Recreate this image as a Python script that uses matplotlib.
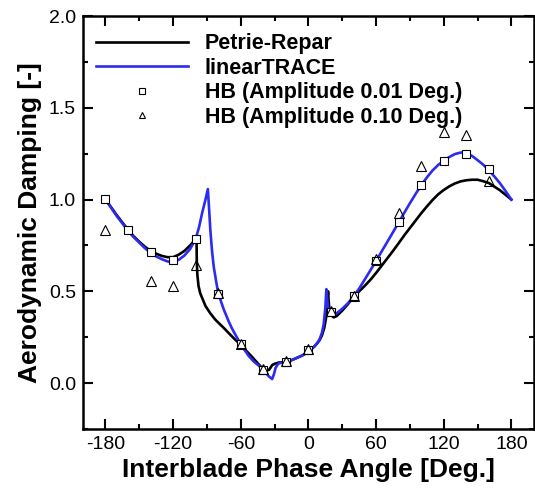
import matplotlib
matplotlib.use('Agg')
import matplotlib.pyplot as plt
from matplotlib.ticker import MultipleLocator

plt.rcParams['font.family'] = ['Liberation Sans', 'DejaVu Sans']

#Petrie-Repar reference curve
pr_ibpa = [-180, -175, -170, -165, -160, -155, -150, -145, -140, -135, -130, -125, -120, -115,
           -110, -105, -102, -100, -99.5, -99.2, -99, -98.5, -97.5, -96, -94, -91.3, -87, -82.5,
           -78, -75, -70, -65, -60, -55, -50, -45, -40, -37, -35, -33.5, -32.2, -30, -26.3, -20,
           -15, -10, -5, 0, 5, 8, 10, 12, 14, 15.5, 16.5, 17.4, 17.9, 18.6, 20, 22.4, 25, 30, 35,
           40, 45, 50, 55, 60, 65, 70, 75, 80, 85, 90, 95, 100, 105, 110, 115, 120, 125, 130, 135,
           140, 145, 150, 155, 160, 165, 170, 175, 180]
pr_damp = [1.0, 0.958, 0.915, 0.875, 0.835, 0.8, 0.77, 0.743, 0.72, 0.705, 0.693, 0.686, 0.686, 0.7,
           0.72, 0.75, 0.77, 0.785, 0.79, 0.76, 0.66, 0.59, 0.53, 0.49, 0.46, 0.42, 0.38, 0.345,
           0.318, 0.30, 0.268, 0.237, 0.208, 0.175, 0.143, 0.108, 0.075, 0.07, 0.072, 0.085, 0.098, 0.105, 0.112, 0.115,
           0.125, 0.138, 0.152, 0.172, 0.198, 0.218, 0.235, 0.26, 0.3, 0.35, 0.42, 0.5, 0.45, 0.40, 0.372, 0.358, 0.365, 0.395, 0.43,
           0.47, 0.5, 0.53, 0.563, 0.6, 0.64, 0.68, 0.72, 0.762, 0.805, 0.845, 0.885, 0.925, 0.962, 0.997, 1.028, 1.052, 1.072, 1.088, 1.099,
           1.105, 1.108, 1.108, 1.1, 1.09, 1.07, 1.05, 1.025, 1.0]

#linearTRACE curve
lt_ibpa = [-180, -175, -170, -165, -160, -155, -150, -145, -140, -135, -130, -125, -122, -118, -115,
           -110, -105, -100, -97, -94.3, -91.3, -89.2, -88.2, -87, -85.5, -84, -82, -80, -77, -75,
           -71, -68, -64, -60, -56, -53, -48.5, -44, -40, -37, -35, -32.2, -30.5, -29.2, -27.5, -26,
           -23, -20, -15, -10, -5, 0, 5, 8, 10, 12, 13.5, 15, 15.9, 16.6, 17.5, 18.5, 20, 22, 25, 30,
           35, 40, 45, 50, 55, 60, 65, 70, 75, 80, 85, 90, 95, 100, 105, 110, 115, 120, 125, 130, 135,
           137, 140, 145, 150, 155, 160, 165, 170, 175, 180]
lt_damp = [1.0, 0.955, 0.91, 0.87, 0.83, 0.795, 0.765, 0.735, 0.71, 0.69, 0.675, 0.663, 0.66, 0.663, 0.672,
           0.695, 0.73, 0.785, 0.85, 0.926, 1.0, 1.057, 0.96, 0.835, 0.72, 0.635, 0.56, 0.49, 0.435, 0.40,
           0.34, 0.30, 0.255, 0.213, 0.175, 0.148, 0.118, 0.095, 0.073, 0.05, 0.036, 0.022, 0.05, 0.082, 0.1, 0.108,
           0.112, 0.115, 0.125, 0.138, 0.152, 0.172, 0.198, 0.22, 0.24, 0.275, 0.32, 0.41, 0.512, 0.46, 0.41, 0.385, 0.373, 0.37, 0.38, 0.405,
           0.435, 0.472, 0.515, 0.565, 0.615, 0.665, 0.718, 0.77, 0.822, 0.875, 0.928, 0.98, 1.03, 1.078, 1.12, 1.158, 1.188, 1.212, 1.232, 1.248, 1.256,
           1.257, 1.253, 1.238, 1.215, 1.19, 1.16, 1.125, 1.088, 1.045, 1.0]

#Harmonic balance results
hb1_ibpa = [-180, -160, -140, -120, -100, -80, -60, -40, -20, 0, 20, 40, 60, 80, 100, 120, 140, 160]
hb1_damp = [1.003, 0.834, 0.716, 0.67, 0.786, 0.485, 0.213, 0.073, 0.116, 0.178, 0.388, 0.472,
            0.666, 0.875, 1.079, 1.21, 1.25, 1.166]

hb2_ibpa = [-180, -140, -120, -100, -80, -60, -40, -20, 0, 20, 40, 60, 80, 100, 120, 140, 160]
hb2_damp = [0.835, 0.557, 0.53, 0.644, 0.49, 0.214, 0.078, 0.12, 0.185, 0.394, 0.477,
            0.676, 0.926, 1.184, 1.366, 1.35, 1.10]

fig = plt.figure(figsize=(5.35, 4.91), dpi=100)
ax = fig.add_axes([0.155, 0.1263, 0.843, 0.8411])

ax.plot(pr_ibpa, pr_damp, color='black', lw=1.9, label='Petrie-Repar')
ax.plot(lt_ibpa, lt_damp, color='#2b2bf2', lw=1.9, label='linearTRACE')
ax.plot(hb1_ibpa, hb1_damp, ls='none', marker='s', ms=5.5, mfc='white', mec='black', mew=0.8,
        label='HB (Amplitude 0.01 Deg.)')
ax.plot(hb2_ibpa, hb2_damp, ls='none', marker='^', ms=6.5, mfc='none', mec='black', mew=0.8,
        label='HB (Amplitude 0.10 Deg.)')

ax.set_xlim(-200, 200)
ax.set_ylim(-0.25, 2.0)
ax.xaxis.set_minor_locator(MultipleLocator(30))
ax.yaxis.set_minor_locator(MultipleLocator(0.25))
ax.set_xticks([-180, -120, -60, 0, 60, 120, 180])
ax.set_xticklabels(['-180', '-120', '-60', '0', '60', '120', '180'])
ax.set_yticks([0.0, 0.5, 1.0, 1.5, 2.0])
ax.set_yticklabels(['0.0', '0.5', '1.0', '1.5', '2.0'])
ax.tick_params(which='both', direction='in', top=True, right=True, width=1.5, labelsize=14)
ax.tick_params(which='major', length=7, pad=5)
ax.tick_params(which='minor', length=3.5)
for sp in ax.spines.values():
    sp.set_linewidth(1.8)

ax.set_xlabel('Interblade Phase Angle [Deg.]', fontsize=19, fontweight='bold', labelpad=4)
ax.set_ylabel('Aerodynamic Damping [-]', fontsize=19, fontweight='bold', labelpad=5)

leg = ax.legend(loc='upper left', bbox_to_anchor=(0.0, 0.99), frameon=False,
                prop={'weight': 'bold', 'size': 15.5}, handlelength=4.3, handletextpad=0.75,
                labelspacing=0.17, borderaxespad=0.3, borderpad=0.3, markerscale=0.75)

plt.savefig('out.png', dpi=100)
